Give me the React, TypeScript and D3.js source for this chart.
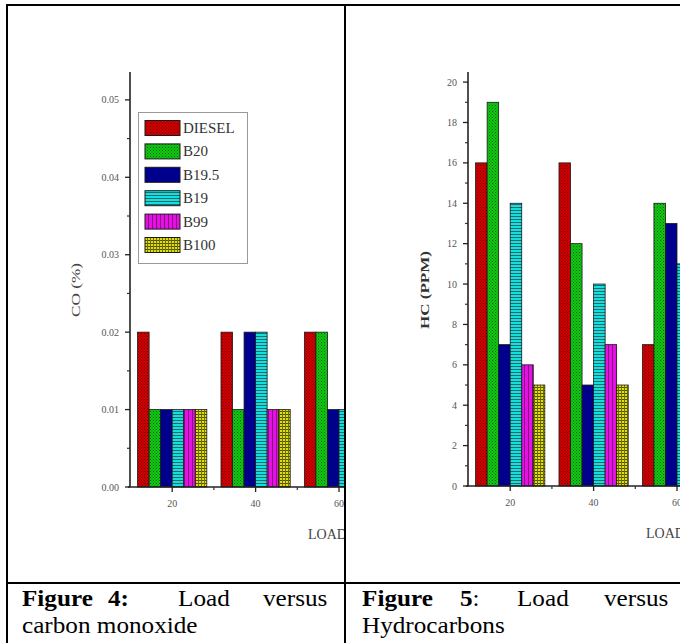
import React from 'react';
import * as d3 from 'd3';

const loads = [20, 40, 60];
const seriesNames = ['DIESEL', 'B20', 'B19.5', 'B19', 'B99', 'B100'];
const patternIds = ['pDiesel', 'pB20', 'pB195', 'pB19', 'pB99', 'pB100'];

const coDiesel = [0.02, 0.02, 0.02];
const coB20 = [0.01, 0.01, 0.02];
const coB195 = [0.01, 0.02, 0.01];
const coB19 = [0.01, 0.02, 0.01];
const coB99 = [0.01, 0.01, 0.01];
const coB100 = [0.01, 0.01, 0.01];

const hcDiesel = [16, 16, 7];
const hcB20 = [19, 12, 14];
const hcB195 = [7, 5, 13];
const hcB19 = [14, 10, 11];
const hcB99 = [6, 7, 6];
const hcB100 = [5, 5, 5];

const coTicks = [0, 0.01, 0.02, 0.03, 0.04, 0.05];
const hcTicks = [0, 2, 4, 6, 8, 10, 12, 14, 16, 18, 20];
const xTicks = [20, 40, 60];
const xMinorTicks = [30, 50];

const coSeries = [coDiesel, coB20, coB195, coB19, coB99, coB100];
const hcSeries = [hcDiesel, hcB20, hcB195, hcB19, hcB99, hcB100];

const SERIF = "'Liberation Serif', 'Times New Roman', Times, serif";

type ChartProps = {
  ox: number;
  series: number[][];
  yMax: number;
  yZeroPx: number;
  yTopPx: number;
  ticks: number[];
  fmt: (v: number) => string;
  yLabel: string;
  yLabelBold: boolean;
  yLabelLen: number;
  clipId: string;
  showLegend: boolean;
};

function Chart(p: ChartProps) {
  const axisX = 130 + p.ox;
  const x = d3.scaleLinear().domain([10, 70]).range([axisX + 0.5, axisX + 0.5 + 60 * 4.17]);
  const y = d3.scaleLinear().domain([0, p.yMax]).range([p.yZeroPx, p.yTopPx]);
  const inner = d3.scaleBand().domain(seriesNames).range([-8.3, 8.3]).padding(0);
  const step = p.ticks[1] - p.ticks[0];
  const minorY = p.ticks.slice(0, -1).map((t) => t + step / 2);
  return (
    <g clipPath={`url(#${p.clipId})`} style={{ fontFamily: SERIF }}>
      {loads.map((ld, li) =>
        seriesNames.map((s, si) => {
          const x0 = x(ld + (inner(s) as number));
          const x1 = x(ld + (inner(s) as number) + inner.bandwidth());
          const v = p.series[si][li];
          return (
            <rect
              key={`${ld}-${s}`}
              x={x0}
              y={y(v)}
              width={x1 - x0}
              height={y(0) - y(v)}
              fill={`url(#${patternIds[si]})`}
              stroke="#1a1a1a"
              strokeWidth={0.8}
            />
          );
        })
      )}
      <line x1={axisX} x2={axisX} y1={p.yTopPx} y2={y(0)} stroke="#222" strokeWidth={1.6} />
      {p.ticks.map((t) => (
        <g key={t}>
          <line x1={axisX - 5} x2={axisX} y1={y(t)} y2={y(t)} stroke="#222" strokeWidth={1.3} />
          <text x={axisX - 11} y={y(t) + 3.5} textAnchor="end" fontSize={10} fill="#555">
            {p.fmt(t)}
          </text>
        </g>
      ))}
      {minorY.map((t) => (
        <line key={t} x1={axisX - 3} x2={axisX} y1={y(t)} y2={y(t)} stroke="#333" strokeWidth={1.2} />
      ))}
      <line x1={axisX - 2} x2={axisX + 260} y1={y(0)} y2={y(0)} stroke="#222" strokeWidth={1.6} />
      {xTicks.map((t) => (
        <g key={t}>
          <line x1={x(t)} x2={x(t)} y1={y(0)} y2={y(0) + 5} stroke="#222" strokeWidth={1.3} />
          <text x={x(t)} y={y(0) + 20} textAnchor="middle" fontSize={10} fill="#555">
            {t}
          </text>
        </g>
      ))}
      {xMinorTicks.map((t) => (
        <line key={t} x1={x(t)} x2={x(t)} y1={y(0)} y2={y(0) + 3} stroke="#333" strokeWidth={1.2} />
      ))}
      <text x={x(60) - 31} y={y(0) + 52} fontSize={14} fill="#444">
        LOAD (%)
      </text>
      <text
        transform={`translate(${axisX - (p.yLabelBold ? 39 : 50)},${290}) rotate(-90)`}
        textAnchor="middle"
        fontSize={13}
        fontWeight={p.yLabelBold ? 'bold' : 'normal'}
        fill={p.yLabelBold ? '#333' : '#444'}
        textLength={p.yLabelLen}
        lengthAdjust="spacingAndGlyphs"
      >
        {p.yLabel}
      </text>
      {p.showLegend && (
        <g>
          <rect x={138.5} y={112.5} width={109} height={151} fill="#fff" stroke="#999" strokeWidth={1} />
          {seriesNames.map((s, i) => {
            const cy = 128 + i * 23.4;
            return (
              <g key={s}>
                <rect x={145} y={cy - 7.5} width={35} height={15} fill={`url(#${patternIds[i]})`} stroke="#1a1a1a" strokeWidth={1} />
                <text x={183} y={cy + 5} fontSize={15} fill="#333">
                  {s}
                </text>
              </g>
            );
          })}
        </g>
      )}
    </g>
  );
}

export default function App() {
  const sx = 1.05;
  return (
    <svg
      width={680}
      height={643}
      style={{ position: 'absolute', left: 0, top: 0, background: '#fff' }}
      xmlns="http://www.w3.org/2000/svg"
    >
      <defs>
        <clipPath id="clip1">
          <rect x={8} y={6} width={336} height={576} />
        </clipPath>
        <clipPath id="clip2">
          <rect x={346} y={6} width={334} height={576} />
        </clipPath>
        <pattern id="pDiesel" width={3} height={3} patternUnits="userSpaceOnUse">
          <rect width={3} height={3} fill="#d20000" />
          <rect width={1} height={1} fill="#6a0000" />
          <rect x={1.5} y={1.5} width={1} height={1} fill="#8a0000" />
        </pattern>
        <pattern id="pB20" width={3} height={3} patternUnits="userSpaceOnUse">
          <rect width={3} height={3} fill="#12c812" />
          <rect width={1} height={1} fill="#056005" />
          <rect x={1.5} y={1.5} width={1} height={1} fill="#078007" />
        </pattern>
        <pattern id="pB195" width={3} height={3} patternUnits="userSpaceOnUse">
          <rect width={3} height={3} fill="#00008c" />
        </pattern>
        <pattern id="pB19" width={3} height={3} patternUnits="userSpaceOnUse">
          <rect width={3} height={3} fill="#10e0e0" />
          <rect width={3} height={1} fill="#206868" />
        </pattern>
        <pattern id="pB99" width={4} height={4} patternUnits="userSpaceOnUse">
          <rect width={4} height={4} fill="#e410e4" />
          <rect width={1} height={4} fill="#801080" />
        </pattern>
        <pattern id="pB100" width={3} height={3} patternUnits="userSpaceOnUse">
          <rect width={3} height={3} fill="#e0e010" />
          <rect width={3} height={1} fill="#505000" />
          <rect width={1} height={3} fill="#707000" />
        </pattern>
      </defs>
      <rect x={0} y={0} width={680} height={643} fill="#fff" />

      <Chart
        ox={0}
        series={coSeries}
        yMax={0.0536}
        yZeroPx={487}
        yTopPx={72}
        ticks={coTicks}
        fmt={d3.format('.2f')}
        yLabel="CO (%)"
        yLabelBold={false}
        yLabelLen={54}
        clipId="clip1"
        showLegend={true}
      />
      <Chart
        ox={338}
        series={hcSeries}
        yMax={20.5}
        yZeroPx={486}
        yTopPx={72}
        ticks={hcTicks}
        fmt={d3.format('d')}
        yLabel="HC (PPM)"
        yLabelBold={true}
        yLabelLen={78}
        clipId="clip2"
        showLegend={false}
      />

      <line x1={6} x2={680} y1={5} y2={5} stroke="#000" strokeWidth={2} />
      <line x1={7} x2={7} y1={4} y2={643} stroke="#000" strokeWidth={2} />
      <line x1={345} x2={345} y1={4} y2={643} stroke="#000" strokeWidth={2} />
      <line x1={6} x2={680} y1={583} y2={583} stroke="#000" strokeWidth={2} />

      <g transform={`scale(${sx},1)`} style={{ fontFamily: SERIF }} fontSize={24} fill="#000">
        <text x={22 / sx} y={606} fontWeight="bold">Figure</text>
        <text x={108 / sx} y={606} fontWeight="bold">4:</text>
        <text x={178 / sx} y={606}>Load</text>
        <text x={263 / sx} y={606}>versus</text>
        <text x={22 / sx} y={633}>carbon monoxide</text>

        <text x={362 / sx} y={606} fontWeight="bold">Figure</text>
        <text x={460 / sx} y={606}><tspan fontWeight="bold">5</tspan>:</text>
        <text x={517 / sx} y={606}>Load</text>
        <text x={604 / sx} y={606}>versus</text>
        <text x={362 / sx} y={633}>Hydrocarbons</text>
      </g>
    </svg>
  );
}
